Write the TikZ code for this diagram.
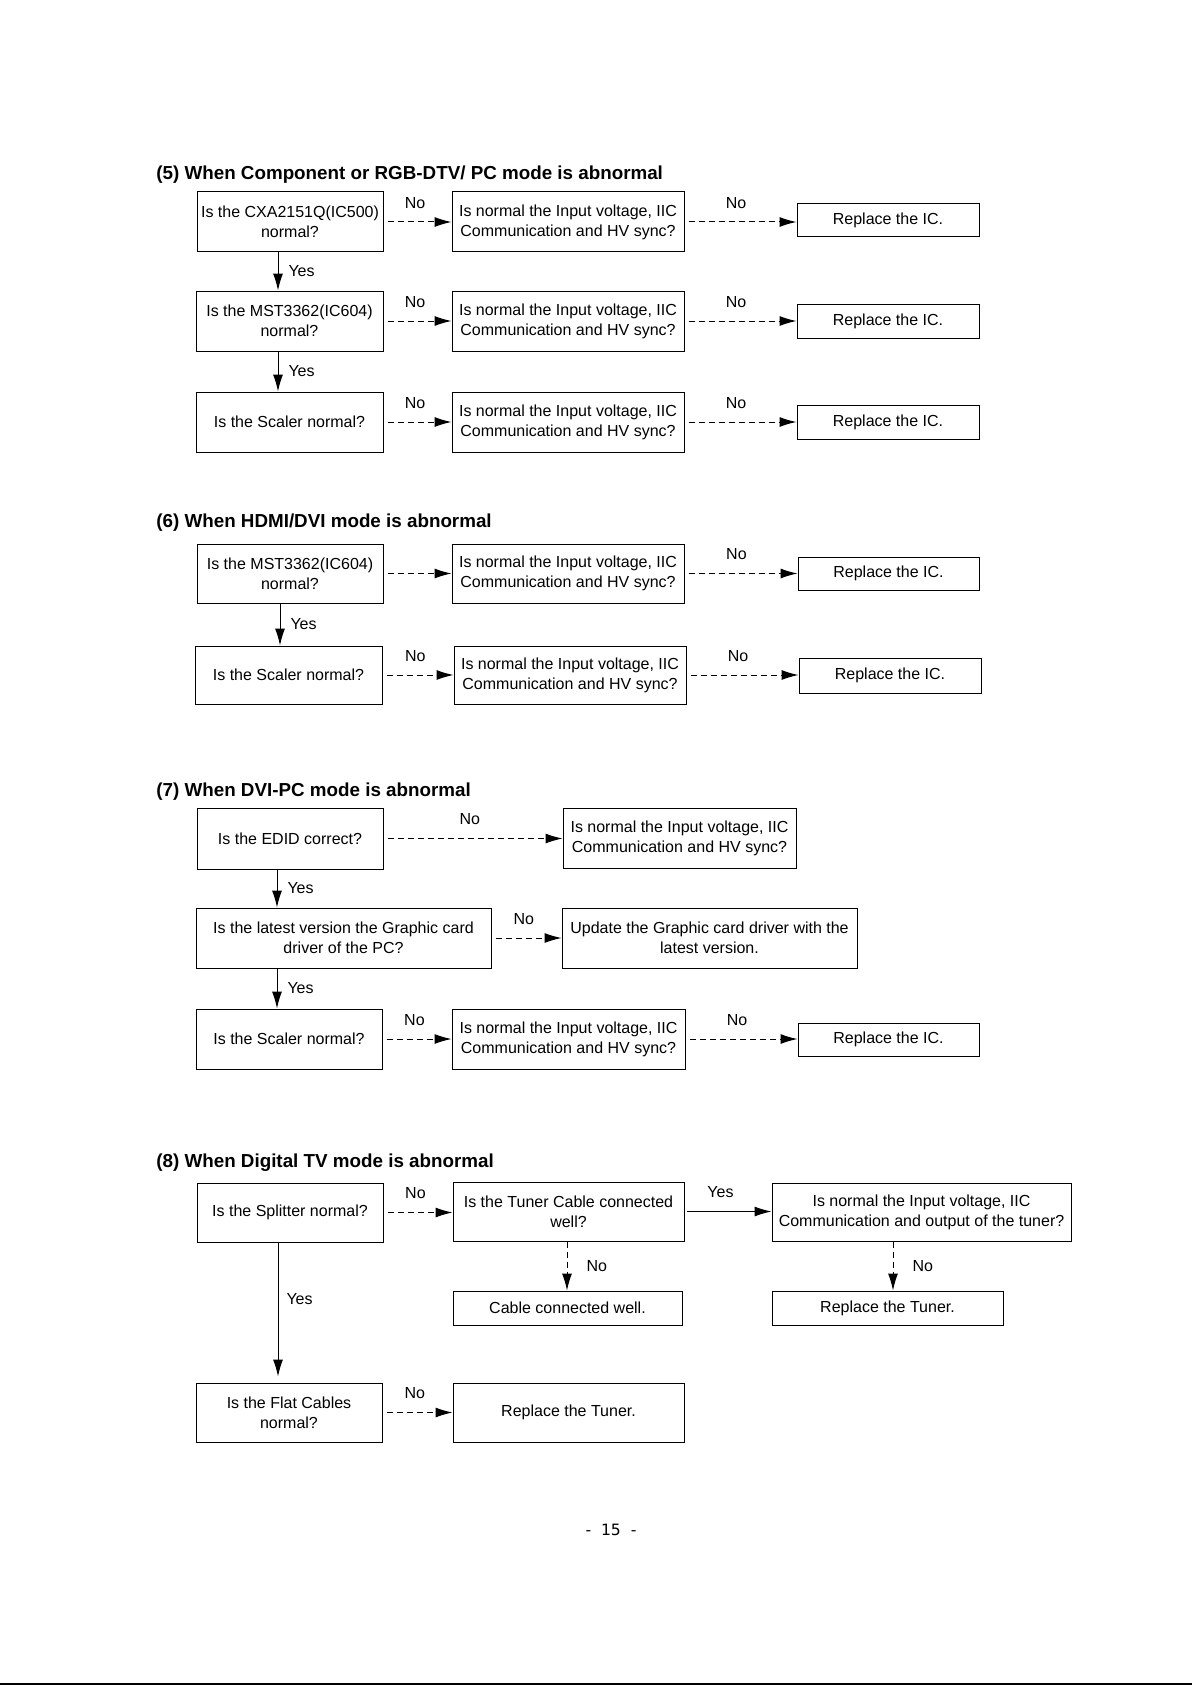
\documentclass[tikz,border=0pt]{standalone}
\usepackage{fontspec}
\setmainfont{Liberation Sans}
\newfontfamily\pgnumfont{DejaVu Sans}
\usetikzlibrary{arrows.meta,calc}
\tikzset{
  box/.style={draw, line width=0.5pt, inner sep=0pt, align=center, font=\fontsize{8}{10}\selectfont},
  lbl/.style={inner sep=0pt, font=\fontsize{8}{10}\selectfont},
  ttl/.style={inner sep=0pt, anchor=west, font=\fontsize{9.4}{11}\selectfont\bfseries},
  noarr/.style={line width=0.5pt, dash pattern=on 3pt off 2pt, -{Latex[length=8.5pt,width=5pt]}},
  yesarr/.style={line width=0.5pt, -{Latex[length=8.5pt,width=5pt]}},
}
\newcommand{\mybox}[6]{\node[box, minimum width={(#4-#2)*0.5pt}, minimum height={(#5-#3)*0.5pt}] (#1) at ({(#2+#4)/2},{(#3+#5)/2}) {#6};}
\begin{document}
\begin{tikzpicture}[x=0.5pt,y=-0.5pt]
\useasboundingbox (0,0) rectangle (1192,1685);

% ---------- (5) ----------
\node[ttl] (t5) at (156,175) {(5) When Component or RGB-DTV/ PC mode is abnormal};
\mybox{a1}{197}{192}{383}{252}{Is the CXA2151Q(IC500)\\normal?}
\mybox{b1}{452}{192}{684}{252}{Is normal the Input voltage, IIC\\Communication and HV sync?}
\mybox{c1}{797}{204}{979}{237}{Replace the IC.}
\mybox{a2}{196}{291}{383}{351}{Is the MST3362(IC604)\\normal?}
\mybox{b2}{452}{291}{684}{351}{Is normal the Input voltage, IIC\\Communication and HV sync?}
\mybox{c2}{797}{304}{979}{338}{Replace the IC.}
\mybox{a3}{196}{392}{383}{452}{Is the Scaler normal?}
\mybox{b3}{452}{392}{684}{452}{Is normal the Input voltage, IIC\\Communication and HV sync?}
\mybox{c3}{797}{405}{979}{439}{Replace the IC.}
\coordinate (v5) at (278,0);
\foreach \r in {1,2,3}{
  \draw[noarr] ([xshift=2pt]a\r.east) -- (b\r.west) node[lbl, pos=0.43, above=6.5pt]{No};
  \draw[noarr] ([xshift=2pt]b\r.east) -- (b\r.east -| c\r.west) node[lbl, pos=0.44, above=6.5pt]{No};
}
\draw[yesarr] (a1.south -| v5) -- (a2.north -| v5) node[lbl, midway, right=5pt]{Yes};
\draw[yesarr] (a2.south -| v5) -- (a3.north -| v5) node[lbl, midway, right=5pt]{Yes};

% ---------- (6) ----------
\node[ttl] (t6) at (156,523) {(6) When HDMI/DVI mode is abnormal};
\mybox{d1}{197}{544}{383}{603}{Is the MST3362(IC604)\\normal?}
\mybox{e1}{452}{544}{684}{603}{Is normal the Input voltage, IIC\\Communication and HV sync?}
\mybox{f1}{798}{557}{979}{590}{Replace the IC.}
\mybox{d2}{195}{646}{382}{704}{Is the Scaler normal?}
\mybox{e2}{454}{646}{686}{704}{Is normal the Input voltage, IIC\\Communication and HV sync?}
\mybox{f2}{799}{658}{981}{693}{Replace the IC.}
\coordinate (v6) at (280,0);
\draw[noarr] ([xshift=2pt]d1.east) -- (e1.west);
\draw[noarr] ([xshift=2pt]e1.east) -- (e1.east -| f1.west) node[lbl, pos=0.44, above=6.5pt]{No};
\draw[noarr] ([xshift=2pt]d2.east) -- (e2.west) node[lbl, pos=0.43, above=6.5pt]{No};
\draw[noarr] ([xshift=2pt]e2.east) -- (e2.east -| f2.west) node[lbl, pos=0.44, above=6.5pt]{No};
\draw[yesarr] (d1.south -| v6) -- (d2.north -| v6) node[lbl, midway, right=5pt]{Yes};

% ---------- (7) ----------
\node[ttl] (t7) at (156,792) {(7) When DVI-PC mode is abnormal};
\mybox{g1}{197}{808}{383}{869}{Is the EDID correct?}
\mybox{h1}{563}{808}{796}{868}{Is normal the Input voltage, IIC\\Communication and HV sync?}
\mybox{g2}{196}{908}{491}{968}{Is the latest version the Graphic card\\driver of the PC?}
\mybox{h2}{562}{908}{857}{968}{Update the Graphic card driver with the\\latest version.}
\mybox{g3}{196}{1009}{382}{1069}{Is the Scaler normal?}
\mybox{h3}{452}{1009}{685}{1069}{Is normal the Input voltage, IIC\\Communication and HV sync?}
\mybox{k3}{798}{1023}{979}{1056}{Replace the IC.}
\coordinate (v7) at (277,0);
\draw[noarr] ([xshift=2pt]g1.east) -- (g1.east -| h1.west) node[lbl, pos=0.47, above=6.5pt]{No};
\draw[noarr] ([xshift=2pt]g2.east) -- (g2.east -| h2.west) node[lbl, pos=0.43, above=6.5pt]{No};
\draw[noarr] ([xshift=2pt]g3.east) -- (h3.west) node[lbl, pos=0.43, above=6.5pt]{No};
\draw[noarr] ([xshift=2pt]h3.east) -- (h3.east -| k3.west) node[lbl, pos=0.44, above=6.5pt]{No};
\draw[yesarr] (g1.south -| v7) -- (g2.north -| v7) node[lbl, midway, right=5pt]{Yes};
\draw[yesarr] (g2.south -| v7) -- (g3.north -| v7) node[lbl, midway, right=5pt]{Yes};

% ---------- (8) ----------
\node[ttl] (t8) at (156,1163) {(8) When Digital TV mode is abnormal};
\mybox{p1}{197}{1183}{383}{1242}{Is the Splitter normal?}
\mybox{q1}{453}{1182}{684}{1241}{Is the Tuner Cable connected\\well?}
\mybox{r1}{772}{1183}{1071}{1241}{Is normal the Input voltage, IIC\\Communication and output of the tuner?}
\mybox{q2}{453}{1291}{682}{1325}{Cable connected well.}
\mybox{r2}{772}{1291}{1003}{1325}{Replace the Tuner.}
\mybox{p3}{196}{1383}{382}{1442}{Is the Flat Cables\\normal?}
\mybox{q3}{453}{1383}{684}{1442}{Replace the Tuner.}
\coordinate (v8) at (278,0);
\coordinate (w8) at (567,0);
\coordinate (z8) at (893,0);
\draw[noarr] ([xshift=2pt]p1.east) -- (p1.east -| q1.west) node[lbl, pos=0.43, above=6.5pt]{No};
\draw[yesarr] ([xshift=1pt]q1.east) -- (q1.east -| r1.west) node[lbl, pos=0.4, above=6.5pt]{Yes};
\draw[noarr] (q1.south -| w8) -- (q2.north -| w8) node[lbl, midway, right=9.5pt]{No};
\draw[noarr] (r1.south -| z8) -- (r2.north -| z8) node[lbl, midway, right=9.5pt]{No};
\draw[yesarr] (p1.south -| v8) -- ([yshift=3pt]p3.north -| v8) node[lbl, pos=0.42, right=4pt]{Yes};
\draw[noarr] ([xshift=2pt]p3.east) -- (p3.east -| q3.west) node[lbl, pos=0.43, above=6.5pt]{No};

% ---------- page number and rule ----------
\node[inner sep=0pt, font=\pgnumfont\fontsize{7.8}{9}\selectfont] (pg) at (611,1530) {-\ \ 15\ \ -};
\draw[line width=1pt] (0,1684) -- (1192,1684);
\end{tikzpicture}
\end{document}
